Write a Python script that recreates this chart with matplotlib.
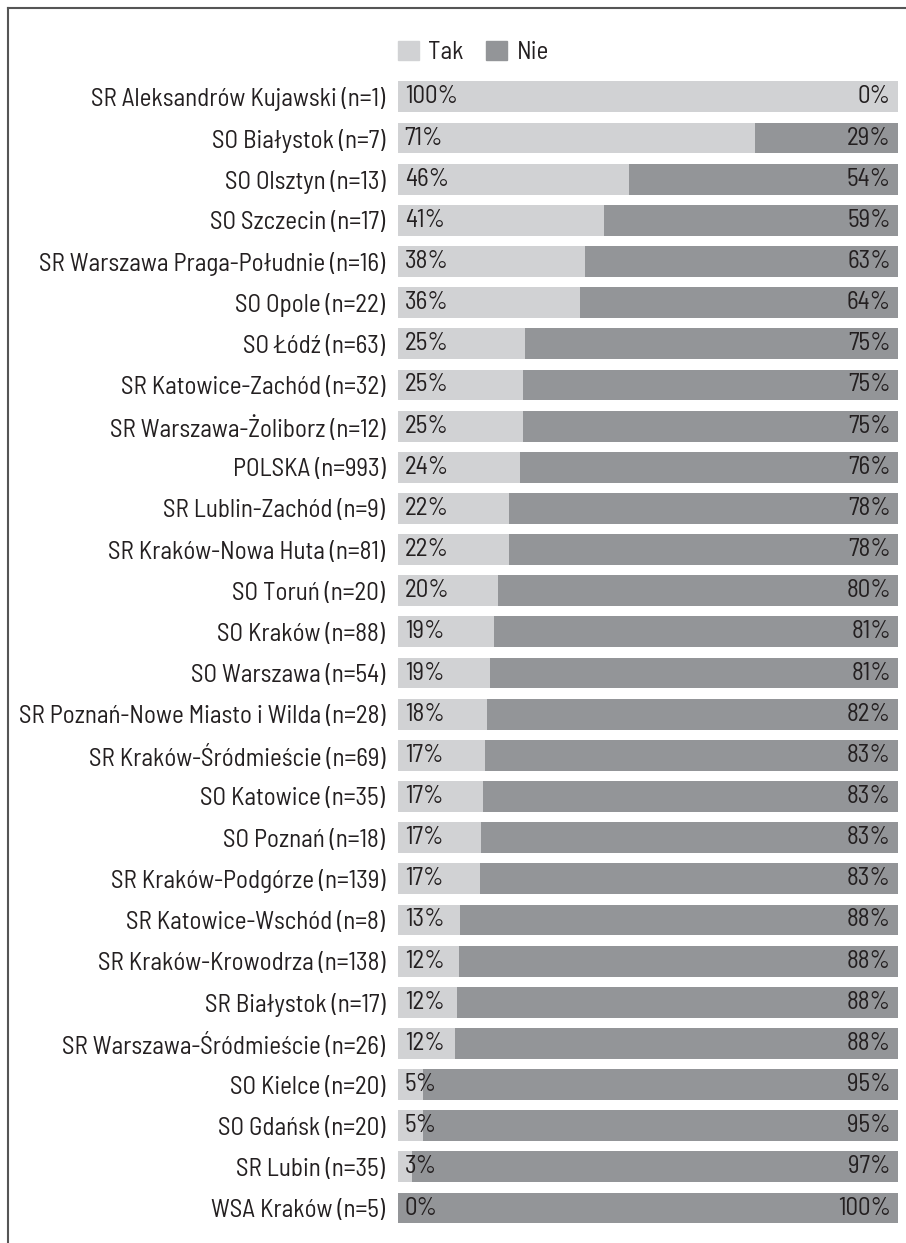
import matplotlib.pyplot as plt
from matplotlib.patches import Patch
from matplotlib import font_manager

categories = [
    "SR Aleksandrów Kujawski (n=1)", "SO Białystok (n=7)", "SO Olsztyn (n=13)",
    "SO Szczecin (n=17)", "SR Warszawa Praga-Południe (n=16)", "SO Opole (n=22)",
    "SO Łódź (n=63)", "SR Katowice-Zachód (n=32)", "SR Warszawa-Żoliborz (n=12)",
    "POLSKA (n=993)", "SR Lublin-Zachód (n=9)", "SR Kraków-Nowa Huta (n=81)",
    "SO Toruń (n=20)", "SO Kraków (n=88)", "SO Warszawa (n=54)",
    "SR Poznań-Nowe Miasto i Wilda (n=28)", "SR Kraków-Śródmieście (n=69)",
    "SO Katowice (n=35)", "SO Poznań (n=18)", "SR Kraków-Podgórze (n=139)",
    "SR Katowice-Wschód (n=8)", "SR Kraków-Krowodrza (n=138)", "SR Białystok (n=17)",
    "SR Warszawa-Śródmieście (n=26)", "SO Kielce (n=20)", "SO Gdańsk (n=20)",
    "SR Lubin (n=35)", "WSA Kraków (n=5)",
]
tak = [100, 71.4, 46.2, 41.2, 37.5, 36.4, 25.4, 25.0, 25.0, 24.4, 22.2, 22.2,
       20.0, 19.3, 18.5, 17.9, 17.4, 17.1, 16.7, 16.5, 12.5, 12.3, 11.8, 11.5,
       5.0, 5.0, 2.9, 0]
tak_labels = ["100%", "71%", "46%", "41%", "38%", "36%", "25%", "25%", "25%", "24%",
              "22%", "22%", "20%", "19%", "19%", "18%", "17%", "17%", "17%", "17%",
              "13%", "12%", "12%", "12%", "5%", "5%", "3%", "0%"]
nie_labels = ["0%", "29%", "54%", "59%", "63%", "64%", "75%", "75%", "75%", "76%",
              "78%", "78%", "80%", "81%", "81%", "82%", "83%", "83%", "83%", "83%",
              "88%", "88%", "88%", "88%", "95%", "95%", "97%", "100%"]
nie = [100 - t for t in tak]

# pick a condensed DIN-like face if one is installed
names = {f.name for f in font_manager.fontManager.ttflist}
fam = "Roboto"
for cand in ["Barlow Semi Condensed Medium", "Barlow Semi Condensed",
             "Roboto Condensed", "Barlow Condensed", "PT Sans Narrow"]:
    if cand in names:
        fam = cand
        break
plt.rcParams['font.family'] = [fam, 'DejaVu Sans']

c_tak = "#d1d2d4"
c_nie = "#939598"
c_txt = "#231f20"
fs = 18

fig = plt.figure(figsize=(9.06, 12.43), dpi=100)
ax = fig.add_axes([0.439, 0.0116, 0.552, 0.927])

y = list(range(len(categories)))
ax.barh(y, tak, height=0.75, color=c_tak)
ax.barh(y, nie, left=tak, height=0.75, color=c_nie)

for i in y:
    ax.text(1.4, i, tak_labels[i], va='center', ha='left', fontsize=fs, color=c_txt)
    ax.text(98.6, i, nie_labels[i], va='center', ha='right', fontsize=fs, color=c_txt)

ax.set_xlim(0, 100)
ax.set_ylim(len(categories) - 0.5, -0.5)
ax.set_yticks(y)
ax.set_yticklabels(categories, fontsize=fs, color=c_txt)
ax.tick_params(axis='y', length=0, pad=9)
ax.set_xticks([])
for s in ax.spines.values():
    s.set_visible(False)

handles = [Patch(color=c_tak, label="Tak"), Patch(color=c_nie, label="Nie")]
leg = fig.legend(handles=handles, loc='center left', bbox_to_anchor=(0.415, 0.958),
                 ncol=2, frameon=False, fontsize=fs, handlelength=0.84,
                 handleheight=0.8, handletextpad=0.36, columnspacing=0.9)
for t in leg.get_texts():
    t.set_color(c_txt)

# frame lines (top and left)
fig.add_artist(plt.Line2D([8 / 906, 1], [1 - 8 / 1243, 1 - 8 / 1243],
                          color="#555555", lw=1.5, transform=fig.transFigure))
fig.add_artist(plt.Line2D([8 / 906, 8 / 906], [0, 1 - 8 / 1243],
                          color="#555555", lw=1.5, transform=fig.transFigure))

fig.savefig("out.png", dpi=100)
